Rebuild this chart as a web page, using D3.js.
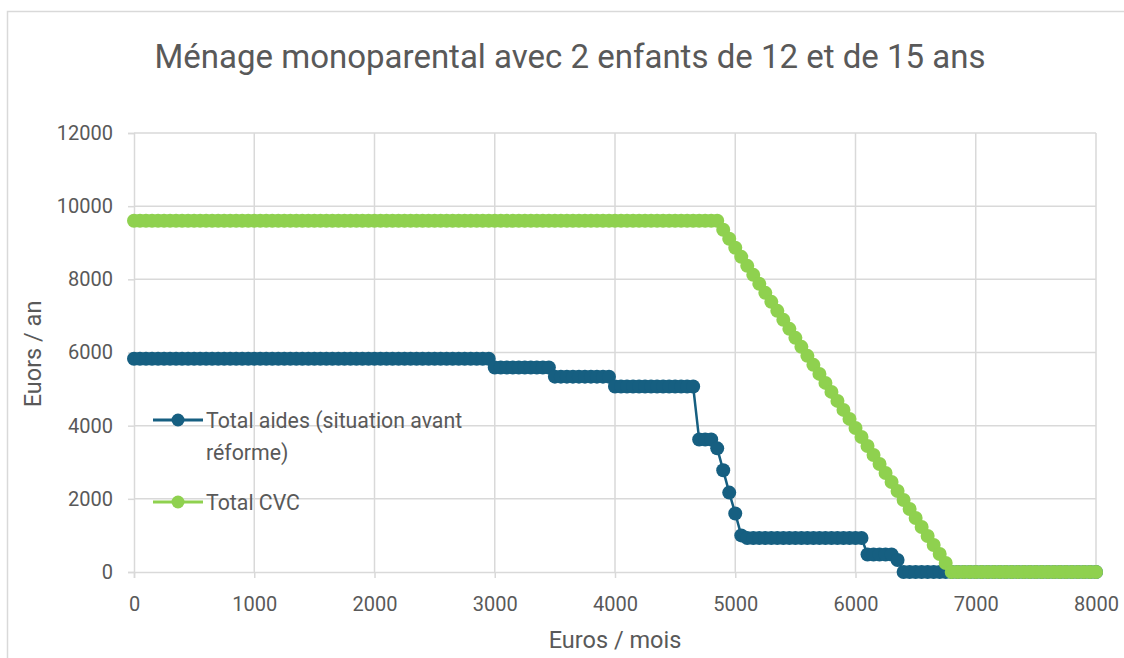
<!DOCTYPE html>
<html>
<head>
<meta charset="utf-8">
<script src="https://cdnjs.cloudflare.com/ajax/libs/d3/7.8.5/d3.min.js"></script>
<style>
  body { margin: 0; background: #fff; }
  text { font-family: Roboto, "Open Sans", sans-serif; fill: #595959; }
</style>
</head>
<body>
<svg id="mainSvg" width="1124" height="658"></svg>
<script>
// revenu mensuel (euros / mois), un point tous les 50 euros
var revenus = d3.range(0, 8001, 50);

var xTicks = [0, 1000, 2000, 3000, 4000, 5000, 6000, 7000, 8000];
var yTicks = [0, 2000, 4000, 6000, 8000, 10000, 12000];

// Total aides (situation avant réforme)
var totalAides = [
  5830,5830,5830,5830,5830,5830,5830,5830,5830,5830,
  5830,5830,5830,5830,5830,5830,5830,5830,5830,5830,
  5830,5830,5830,5830,5830,5830,5830,5830,5830,5830,
  5830,5830,5830,5830,5830,5830,5830,5830,5830,5830,
  5830,5830,5830,5830,5830,5830,5830,5830,5830,5830,
  5830,5830,5830,5830,5830,5830,5830,5830,5830,5830,
  5590,5590,5590,5590,5590,5590,5590,5590,5590,5590,
  5340,5340,5340,5340,5340,5340,5340,5340,5340,5340,
  5070,5070,5070,5070,5070,5070,5070,5070,5070,5070,
  5070,5070,5070,5070,3620,3620,3620,3380,2780,2170,
  1600,1000, 930, 930, 930, 930, 930, 930, 930, 930,
   930, 930, 930, 930, 930, 930, 930, 930, 930, 930,
   930, 930, 480, 480, 480, 480, 480, 330,   0,   0,
     0,   0,   0,   0,   0,   0,   0,   0,   0,   0,
     0,   0,   0,   0,   0,   0,   0,   0,   0,   0,
     0,   0,   0,   0,   0,   0,   0,   0,   0,   0,
     0
];

// Total CVC
var totalCVC = [
  9600,9600,9600,9600,9600,9600,9600,9600,9600,9600,
  9600,9600,9600,9600,9600,9600,9600,9600,9600,9600,
  9600,9600,9600,9600,9600,9600,9600,9600,9600,9600,
  9600,9600,9600,9600,9600,9600,9600,9600,9600,9600,
  9600,9600,9600,9600,9600,9600,9600,9600,9600,9600,
  9600,9600,9600,9600,9600,9600,9600,9600,9600,9600,
  9600,9600,9600,9600,9600,9600,9600,9600,9600,9600,
  9600,9600,9600,9600,9600,9600,9600,9600,9600,9600,
  9600,9600,9600,9600,9600,9600,9600,9600,9600,9600,
  9600,9600,9600,9600,9600,9600,9600,9600,9354,9108,
  8862,8615,8369,8123,7877,7631,7385,7138,6892,6646,
  6400,6154,5908,5662,5415,5169,4923,4677,4431,4185,
  3938,3692,3446,3200,2954,2708,2462,2215,1969,1723,
  1477,1231, 985, 738, 492, 246,   0,   0,   0,   0,
     0,   0,   0,   0,   0,   0,   0,   0,   0,   0,
     0,   0,   0,   0,   0,   0,   0,   0,   0,   0,
     0
];

var seriesNames = ["Total aides (situation avant réforme)", "Total CVC"];
var seriesColors = ["#165f81", "#8fd14f"];
var markerRadius = 7;

var svg = d3.select("#mainSvg");

// cadre du graphique
svg.append("path")
  .attr("d", "M7.5,658 L7.5,11.5 L1124,11.5")
  .attr("fill", "none")
  .attr("stroke", "#d9d9d9")
  .attr("stroke-width", 1.5);

var plotLeft = 134, plotRight = 1096, plotTop = 133, plotBottom = 572;

var x = d3.scaleLinear().domain([0, 8000]).range([plotLeft, plotRight]);
var y = d3.scaleLinear().domain([0, 12000]).range([plotBottom, plotTop]);

// grille
var grid = svg.append("g").attr("class", "grid");
grid.selectAll(".hgrid")
  .data(yTicks.slice(1))
  .enter().append("line")
  .attr("x1", plotLeft).attr("x2", plotRight)
  .attr("y1", function (d) { return y(d); })
  .attr("y2", function (d) { return y(d); })
  .attr("stroke", "#d9d9d9").attr("stroke-width", 1.5);
grid.selectAll(".vgrid")
  .data(xTicks.slice(1))
  .enter().append("line")
  .attr("x1", function (d) { return x(d); })
  .attr("x2", function (d) { return x(d); })
  .attr("y1", plotTop).attr("y2", plotBottom)
  .attr("stroke", "#d9d9d9").attr("stroke-width", 1.5);

// axes
var xAxis = svg.append("g")
  .attr("transform", "translate(0," + plotBottom + ")")
  .call(d3.axisBottom(x).tickValues(xTicks).tickSize(6).tickPadding(19).tickFormat(d3.format("d")));
var yAxis = svg.append("g")
  .attr("transform", "translate(" + plotLeft + ",0)")
  .call(d3.axisLeft(y).tickValues(yTicks).tickSize(6).tickPadding(15).tickFormat(d3.format("d")));

[xAxis, yAxis].forEach(function (g) {
  g.select(".domain").attr("stroke", "#d9d9d9").attr("stroke-width", 1.5);
  g.selectAll(".tick line").attr("stroke", "#d9d9d9").attr("stroke-width", 1.5);
  g.selectAll(".tick text")
    .attr("font-size", 20)
    .attr("font-family", "Roboto, sans-serif")
    .attr("fill", "#595959");
});

// séries
var seriesData = [totalAides, totalCVC];
var line = d3.line()
  .x(function (d, i) { return x(revenus[i]); })
  .y(function (d) { return y(d); });

seriesData.forEach(function (vals, s) {
  var g = svg.append("g").attr("class", "series" + s);
  g.append("path")
    .attr("d", line(vals))
    .attr("fill", "none")
    .attr("stroke", seriesColors[s])
    .attr("stroke-width", 2.5);
  g.selectAll("circle")
    .data(vals)
    .enter().append("circle")
    .attr("cx", function (d, i) { return x(revenus[i]); })
    .attr("cy", function (d) { return y(d); })
    .attr("r", markerRadius)
    .attr("fill", seriesColors[s]);
});

// titre
svg.append("text")
  .attr("x", 570).attr("y", 68)
  .attr("text-anchor", "middle")
  .attr("font-size", 33)
  .text("Ménage monoparental avec 2 enfants de 12 et de 15 ans");

// titres des axes
svg.append("text")
  .attr("x", 615).attr("y", 648)
  .attr("text-anchor", "middle")
  .attr("font-size", 23.5)
  .text("Euros / mois");

svg.append("text")
  .attr("transform", "translate(41,354) rotate(-90)")
  .attr("text-anchor", "middle")
  .attr("font-size", 23.5)
  .text("Euors / an");

// légende
var legend = svg.append("g").attr("class", "legend");
var legendRows = [
  { lines: ["Total aides (situation avant", "réforme)"], y: 420 },
  { lines: ["Total CVC"], y: 502 }
];
legendRows.forEach(function (row, s) {
  legend.append("line")
    .attr("x1", 153).attr("x2", 203)
    .attr("y1", row.y).attr("y2", row.y)
    .attr("stroke", seriesColors[s]).attr("stroke-width", 3);
  legend.append("circle")
    .attr("cx", 178).attr("cy", row.y).attr("r", 6.5)
    .attr("fill", seriesColors[s]);
  var t = legend.append("text")
    .attr("x", 206).attr("y", row.y + 7.5)
    .attr("font-size", 21.3);
  row.lines.forEach(function (l, k) {
    t.append("tspan").attr("x", 206).attr("dy", k === 0 ? 0 : 32).text(l);
  });
});
</script>
</body>
</html>
